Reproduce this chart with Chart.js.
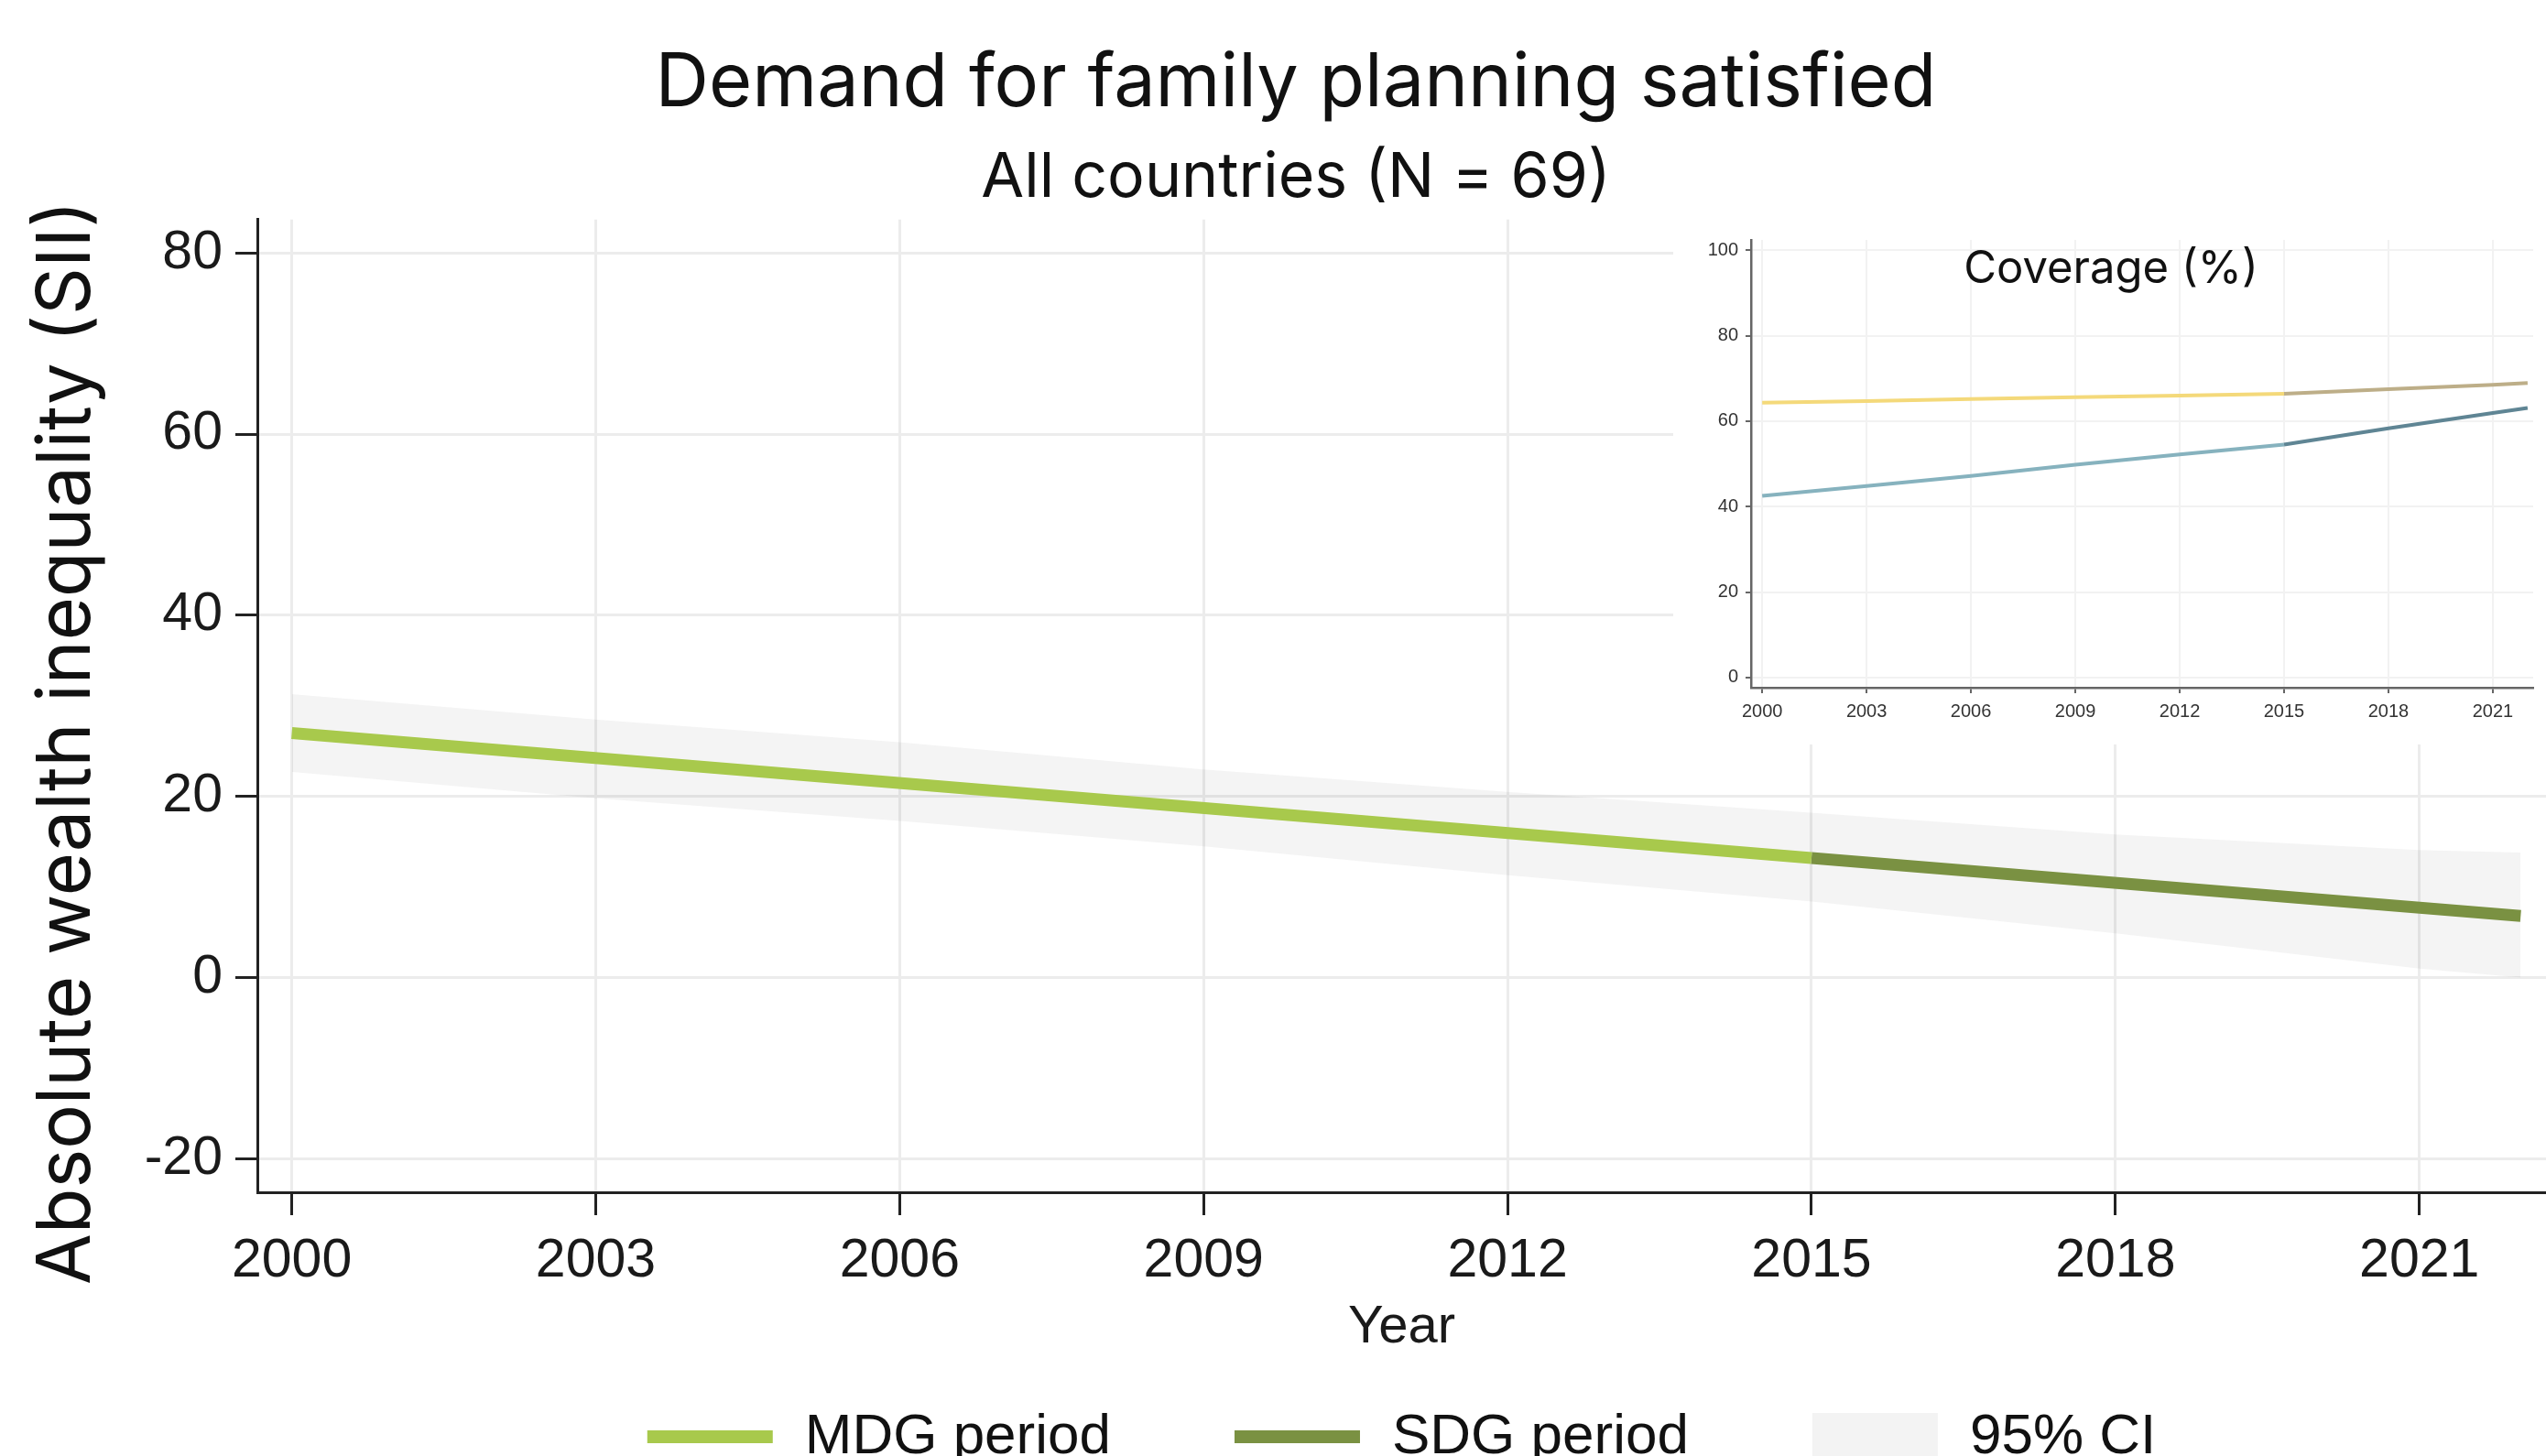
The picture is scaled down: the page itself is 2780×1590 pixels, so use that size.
<!DOCTYPE html>
<html>
<head>
<meta charset="utf-8">
<title>Demand for family planning satisfied</title>
<script src="https://cdn.jsdelivr.net/npm/chart.js@4.4.1/dist/chart.umd.min.js"></script>
<style>
  html, body { margin: 0; padding: 0; background: #fff; overflow: hidden; }
  #wrap { position: relative; width: 2780px; height: 1590px; }
  #mainChart { position: absolute; left: 0; top: 0; }
  #insetChart { position: absolute; left: 1827px; top: 235px; background: #fff; }
</style>
</head>
<body>
<div id="wrap">
  <canvas id="mainChart" width="2780" height="1590"></canvas>
  <canvas id="insetChart" width="953" height="578"></canvas>
</div>
<script>
// Main panel: absolute wealth inequality (SII)
const yearTicks = [2000, 2003, 2006, 2009, 2012, 2015, 2018, 2021];
const siiTicks = [-20, 0, 20, 40, 60, 80];

const mdgYears = [2000, 2015];
const mdgSii = [27.0, 13.2];
const sdgYears = [2015, 2022];
const sdgSii = [13.2, 6.8];

const ciYears = [2000, 2003, 2006, 2009, 2012, 2015, 2018, 2021, 2022];
const ciUpper = [31.3, 28.5, 26.0, 23.0, 20.5, 18.2, 15.8, 14.1, 13.8];
const ciLower = [22.7, 19.8, 17.3, 14.5, 11.3, 8.4, 4.9, 1.0, 0.0];

// Inset: coverage (%)
const coverageTicks = [0, 20, 40, 60, 80, 100];
const covMdgYears = [2000, 2003, 2006, 2009, 2012, 2015];
const covSdgYears = [2015, 2018, 2021, 2022];
const covHighMdg = [64.3, 64.7, 65.2, 65.6, 66.0, 66.4];
const covHighSdg = [66.4, 67.5, 68.5, 68.9];
const covLowMdg = [42.5, 44.8, 47.2, 49.8, 52.2, 54.5];
const covLowSdg = [54.5, 58.3, 61.9, 63.1];

const MDG_GREEN = '#a8c94c';
const SDG_GREEN = '#7a9142';
const CI_FILL = 'rgba(0,0,0,0.045)';

const points = (xs, ys) => xs.map((x, i) => ({ x: x, y: ys[i] }));
const plainYear = v => String(v);

// draws free text (rotated y title, inset title)
const overlayText = {
  id: 'overlayText',
  afterDraw(chart, args, opts) {
    const ctx = chart.ctx;
    (opts.items || []).forEach(t => {
      ctx.save();
      ctx.translate(t.x, t.y);
      if (t.rotate) ctx.rotate(t.rotate);
      ctx.font = t.font;
      ctx.fillStyle = t.color || '#111';
      ctx.textAlign = 'center';
      ctx.textBaseline = 'middle';
      ctx.fillText(t.text, 0, 0);
      ctx.restore();
    });
  }
};

// legend row under the x axis
const periodLegend = {
  id: 'periodLegend',
  afterDraw(chart, args, opts) {
    if (!opts.items) return;
    const ctx = chart.ctx;
    const { left, right } = chart.chartArea;
    ctx.save();
    ctx.font = opts.font;
    const widths = opts.items.map(it => opts.swatch + opts.gap + ctx.measureText(it.text).width);
    const total = widths.reduce((a, b) => a + b, 0) + opts.spacing * (opts.items.length - 1);
    let x = (left + right) / 2 - total / 2;
    opts.items.forEach((it, i) => {
      ctx.fillStyle = it.color;
      if (it.box) {
        ctx.fillRect(x, opts.boxTop, opts.swatch, 200);
      } else {
        ctx.fillRect(x, opts.lineY - opts.lineWidth / 2, opts.swatch, opts.lineWidth);
      }
      ctx.fillStyle = '#111';
      ctx.textAlign = 'left';
      ctx.textBaseline = 'alphabetic';
      ctx.fillText(it.text, x + opts.swatch + opts.gap, opts.baseline);
      x += widths[i] + opts.spacing;
    });
    ctx.restore();
  }
};

const mainChart = new Chart(document.getElementById('mainChart'), {
  type: 'line',
  data: {
    datasets: [
      { label: 'MDG period', data: points(mdgYears, mdgSii), borderColor: MDG_GREEN, borderWidth: 13, pointRadius: 0, fill: false },
      { label: 'SDG period', data: points(sdgYears, sdgSii), borderColor: SDG_GREEN, borderWidth: 13, pointRadius: 0, fill: false },
      { label: '95% CI', data: points(ciYears, ciUpper), borderWidth: 0, pointRadius: 0, backgroundColor: CI_FILL, fill: '+1' },
      { label: 'ci lower', data: points(ciYears, ciLower), borderWidth: 0, pointRadius: 0, fill: false }
    ]
  },
  options: {
    responsive: false,
    devicePixelRatio: 1,
    animation: false,
    layout: { padding: { left: 50, right: 0, top: 0, bottom: 105 } },
    scales: {
      x: {
        type: 'linear',
        min: 1999.66,
        max: 2022.25,
        afterBuildTicks: s => { s.ticks = yearTicks.map(v => ({ value: v })); },
        afterFit: s => { s.height = 183; },
        ticks: { font: { family: 'Liberation Sans', size: 59 }, color: '#1a1a1a', padding: 15, maxRotation: 0, autoSkip: false, callback: plainYear },
        grid: { color: '#ececec', lineWidth: 3, tickColor: '#222', tickWidth: 3, tickLength: 25 },
        border: { color: '#222', width: 3 },
        title: { display: true, text: 'Year', font: { family: 'Liberation Sans', size: 58 }, color: '#1a1a1a', padding: { top: 0, bottom: 0 } }
      },
      y: {
        min: -23.7,
        max: 83.7,
        afterBuildTicks: s => { s.ticks = siiTicks.map(v => ({ value: v })); },
        afterFit: s => { s.width = 231; },
        ticks: { font: { family: 'Liberation Sans', size: 59 }, color: '#1a1a1a', padding: 14 },
        grid: { color: '#ececec', lineWidth: 3, tickColor: '#222', tickWidth: 3, tickLength: 24 },
        border: { color: '#222', width: 3 }
      }
    },
    plugins: {
      legend: { display: false },
      tooltip: { enabled: false },
      title: {
        display: true,
        text: 'Demand for family planning satisfied',
        font: { family: 'Inter', size: 81, weight: 'normal' },
        color: '#111',
        padding: { top: 43, bottom: 0 }
      },
      subtitle: {
        display: true,
        text: 'All countries (N = 69)',
        font: { family: 'Inter', size: 68, weight: 'normal' },
        color: '#111',
        padding: { top: 14, bottom: 4 }
      },
      overlayText: {
        items: [
          { text: 'Absolute wealth inequality (SII)', x: 74, y: 811, rotate: -Math.PI / 2, font: '81px Inter' }
        ]
      },
      periodLegend: {
        font: '62px "Liberation Sans"',
        swatch: 137, gap: 35, spacing: 135,
        lineY: 1569, lineWidth: 14, boxTop: 1543, baseline: 1587,
        items: [
          { text: 'MDG period', color: MDG_GREEN },
          { text: 'SDG period', color: SDG_GREEN },
          { text: '95% CI', color: '#f3f3f3', box: true }
        ]
      }
    }
  },
  plugins: [overlayText, periodLegend]
});

const insetChart = new Chart(document.getElementById('insetChart'), {
  type: 'line',
  data: {
    datasets: [
      { label: 'high MDG', data: points(covMdgYears, covHighMdg), borderColor: '#f4d97a', borderWidth: 4, pointRadius: 0 },
      { label: 'high SDG', data: points(covSdgYears, covHighSdg), borderColor: '#bdae88', borderWidth: 4, pointRadius: 0 },
      { label: 'low MDG', data: points(covMdgYears, covLowMdg), borderColor: '#86b2be', borderWidth: 4, pointRadius: 0 },
      { label: 'low SDG', data: points(covSdgYears, covLowSdg), borderColor: '#5f8594', borderWidth: 4, pointRadius: 0 }
    ]
  },
  options: {
    responsive: false,
    devicePixelRatio: 1,
    animation: false,
    layout: { padding: { left: 0, right: 14, top: 27, bottom: 0 } },
    scales: {
      x: {
        type: 'linear',
        min: 1999.68,
        max: 2022.16,
        afterBuildTicks: s => { s.ticks = yearTicks.map(v => ({ value: v })); },
        afterFit: s => { s.height = 62; },
        ticks: { font: { family: 'Liberation Sans', size: 20 }, color: '#333', padding: 8, maxRotation: 0, autoSkip: false, callback: plainYear },
        grid: { color: '#f2f2f2', lineWidth: 2, tickColor: '#666', tickWidth: 2, tickLength: 6 },
        border: { color: '#666', width: 2.5 }
      },
      y: {
        min: -2.36,
        max: 102.4,
        afterBuildTicks: s => { s.ticks = coverageTicks.map(v => ({ value: v })); },
        afterFit: s => { s.width = 85; },
        ticks: { font: { family: 'Liberation Sans', size: 20 }, color: '#333', padding: 8 },
        grid: { color: '#f2f2f2', lineWidth: 2, tickColor: '#666', tickWidth: 2, tickLength: 6 },
        border: { color: '#666', width: 2.5 }
      }
    },
    plugins: {
      legend: { display: false },
      tooltip: { enabled: false },
      overlayText: {
        items: [
          { text: 'Coverage (%)', x: 478, y: 59, font: '49px Inter' }
        ]
      }
    }
  },
  plugins: [overlayText]
});
</script>
</body>
</html>
